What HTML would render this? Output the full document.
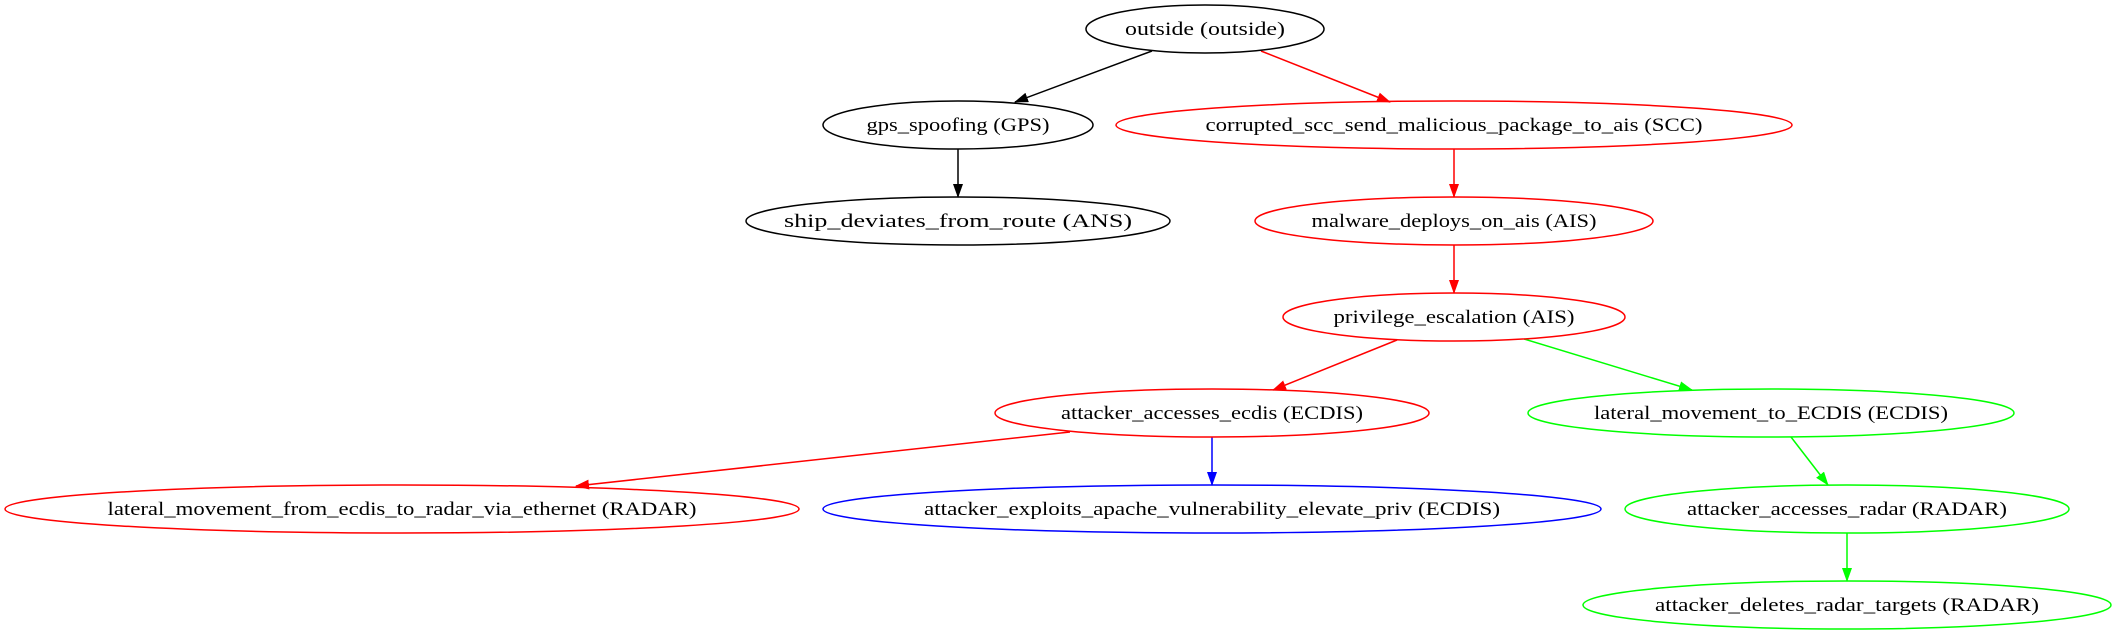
<!DOCTYPE html>
<html><head><meta charset="utf-8"><style>body{margin:0;background:#fff}svg{display:block}</style></head>
<body>
<svg width="2117" height="635" xmlns="http://www.w3.org/2000/svg" font-family="'Liberation Serif', serif" font-size="19">
<defs>
<marker id="k" markerWidth="14" markerHeight="10" refX="13" refY="5" orient="auto" markerUnits="userSpaceOnUse"><path d="M0,0 L14,5 L0,10 z" fill="#000"/></marker>
<marker id="r" markerWidth="14" markerHeight="10" refX="13" refY="5" orient="auto" markerUnits="userSpaceOnUse"><path d="M0,0 L14,5 L0,10 z" fill="#f00"/></marker>
<marker id="g" markerWidth="14" markerHeight="10" refX="13" refY="5" orient="auto" markerUnits="userSpaceOnUse"><path d="M0,0 L14,5 L0,10 z" fill="#0f0"/></marker>
<marker id="b" markerWidth="14" markerHeight="10" refX="13" refY="5" orient="auto" markerUnits="userSpaceOnUse"><path d="M0,0 L14,5 L0,10 z" fill="#00f"/></marker>
</defs>
<g fill="none" stroke-width="1.5">
<line x1="1152" y1="51" x2="1015" y2="102" stroke="#000" marker-end="url(#k)"/>
<line x1="1261" y1="51" x2="1390" y2="102" stroke="#f00" marker-end="url(#r)"/>
<line x1="958" y1="149" x2="958" y2="197" stroke="#000" marker-end="url(#k)"/>
<line x1="1454" y1="149" x2="1454" y2="197" stroke="#f00" marker-end="url(#r)"/>
<line x1="1454" y1="245" x2="1454" y2="293" stroke="#f00" marker-end="url(#r)"/>
<line x1="1397" y1="340" x2="1273" y2="390" stroke="#f00" marker-end="url(#r)"/>
<line x1="1524" y1="339" x2="1692" y2="390" stroke="#0f0" marker-end="url(#g)"/>
<line x1="1070" y1="432" x2="576" y2="486" stroke="#f00" marker-end="url(#r)"/>
<line x1="1212" y1="437" x2="1212" y2="485" stroke="#00f" marker-end="url(#b)"/>
<line x1="1791" y1="437" x2="1828" y2="485" stroke="#0f0" marker-end="url(#g)"/>
<line x1="1847" y1="533" x2="1847" y2="581" stroke="#0f0" marker-end="url(#g)"/>
<ellipse cx="1205" cy="29" rx="119" ry="24" stroke="#000"/>
<ellipse cx="958" cy="125" rx="135" ry="24" stroke="#000"/>
<ellipse cx="958" cy="221" rx="212" ry="24" stroke="#000"/>
<ellipse cx="1454" cy="125" rx="338" ry="24" stroke="#f00"/>
<ellipse cx="1454" cy="221" rx="199" ry="24" stroke="#f00"/>
<ellipse cx="1454" cy="317" rx="171" ry="24" stroke="#f00"/>
<ellipse cx="1212" cy="413" rx="217" ry="24" stroke="#f00"/>
<ellipse cx="1771" cy="413" rx="243" ry="24" stroke="#0f0"/>
<ellipse cx="402" cy="509" rx="397" ry="24" stroke="#f00"/>
<ellipse cx="1212" cy="509" rx="389" ry="24" stroke="#00f"/>
<ellipse cx="1847" cy="509" rx="222" ry="24" stroke="#0f0"/>
<ellipse cx="1847" cy="605" rx="264" ry="24" stroke="#0f0"/>
</g>
<g text-anchor="middle" fill="#000" lengthAdjust="spacingAndGlyphs">
<text x="1205" y="35" textLength="160" lengthAdjust="spacingAndGlyphs">outside (outside)</text>
<text x="958" y="131" textLength="183" lengthAdjust="spacingAndGlyphs">gps_spoofing (GPS)</text>
<text x="958" y="227" textLength="348" lengthAdjust="spacingAndGlyphs">ship_deviates_from_route (ANS)</text>
<text x="1454" y="131" textLength="497" lengthAdjust="spacingAndGlyphs">corrupted_scc_send_malicious_package_to_ais (SCC)</text>
<text x="1454" y="227" textLength="285" lengthAdjust="spacingAndGlyphs">malware_deploys_on_ais (AIS)</text>
<text x="1454" y="323" textLength="241" lengthAdjust="spacingAndGlyphs">privilege_escalation (AIS)</text>
<text x="1212" y="419" textLength="302" lengthAdjust="spacingAndGlyphs">attacker_accesses_ecdis (ECDIS)</text>
<text x="1771" y="419" textLength="354" lengthAdjust="spacingAndGlyphs">lateral_movement_to_ECDIS (ECDIS)</text>
<text x="402" y="515" textLength="589" lengthAdjust="spacingAndGlyphs">lateral_movement_from_ecdis_to_radar_via_ethernet (RADAR)</text>
<text x="1212" y="515" textLength="576" lengthAdjust="spacingAndGlyphs">attacker_exploits_apache_vulnerability_elevate_priv (ECDIS)</text>
<text x="1847" y="515" textLength="320" lengthAdjust="spacingAndGlyphs">attacker_accesses_radar (RADAR)</text>
<text x="1847" y="611" textLength="384" lengthAdjust="spacingAndGlyphs">attacker_deletes_radar_targets (RADAR)</text>
</g>
</svg>
</body></html>
